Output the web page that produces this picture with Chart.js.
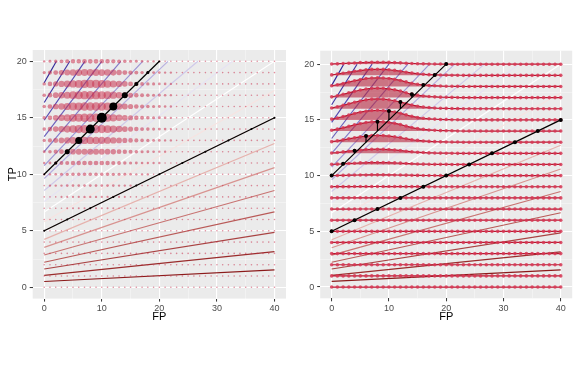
<!DOCTYPE html>
<html>
<head>
<meta charset="utf-8">
<script src="https://cdn.jsdelivr.net/npm/chart.js"></script>
<style>
  html, body { margin: 0; padding: 0; background: #fff; }
  #wrap { position: relative; width: 581px; height: 372px; }
  canvas { position: absolute; top: 0; }
</style>
</head>
<body>
<div id="wrap">
  <canvas id="leftChart" width="290" height="372" style="left:0"></canvas>
  <canvas id="rightChart" width="291" height="372" style="left:290px"></canvas>
</div>
<script>
// ---- data ----
const fpValues = [0,1,2,3,4,5,6,7,8,9,10,11,12,13,14,15,16,17,18,19,20,
                  21,22,23,24,25,26,27,28,29,30,31,32,33,34,35,36,37,38,39,40];
const tpValues = [0,1,2,3,4,5,6,7,8,9,10,11,12,13,14,15,16,17,18,19,20];

const fpGrid = [0,5,10,15,20,25,30,35,40];
const fpLabels = [0,10,20,30,40];
const tpGrid = [0,2.5,5,7.5,10,12.5,15,17.5,20];
const tpLabels = [0,5,10,15,20];

// density per TP row (index = FP), missing entries are 0
const density = [];
density[7]  = [0,0,0,0,0.002,0.003,0.003,0.004,0.004,0.004,0.003,0.003,0.002];
density[8]  = [0,0,0,0.005,0.007,0.008,0.009,0.01,0.01,0.01,0.009,0.008,0.007,0.005,0.004];
density[9]  = [0,0.01,0.01,0.01,0.02,0.02,0.02,0.02,0.025,0.02,0.02,0.02,0.02,0.01,0.01,0.01];
density[10] = [0.01,0.01,0.02,0.04,0.05,0.06,0.06,0.07,0.07,0.07,0.06,0.06,0.05,0.04,0.03,0.02,0.01,0.01,0.01];
density[11] = [0.01,0.03,0.06,0.09,0.11,0.14,0.15,0.17,0.17,0.17,0.16,0.14,0.12,0.09,0.06,0.04,0.03,0.02,0.01,0.01,0.01];
density[12] = [0.03,0.07,0.13,0.19,0.24,0.30,0.34,0.36,0.37,0.36,0.34,0.30,0.26,0.19,0.14,0.10,0.07,0.04,0.03,0.02,0.01,0.01];
density[13] = [0.05,0.12,0.21,0.30,0.40,0.48,0.55,0.59,0.60,0.59,0.55,0.49,0.41,0.31,0.22,0.16,0.11,0.07,0.05,0.03,0.02,0.01,0.01];
density[14] = [0.07,0.17,0.29,0.42,0.55,0.67,0.76,0.82,0.84,0.82,0.77,0.69,0.58,0.44,0.31,0.22,0.15,0.10,0.07,0.04,0.03,0.02,0.01];
density[15] = [0.07,0.17,0.30,0.43,0.57,0.69,0.78,0.84,0.86,0.84,0.79,0.71,0.59,0.45,0.32,0.22,0.15,0.10,0.07,0.04,0.03,0.02,0.01];
density[16] = [0.07,0.18,0.31,0.44,0.58,0.70,0.80,0.86,0.88,0.86,0.81,0.72,0.61,0.46,0.33,0.23,0.16,0.11,0.07,0.04,0.03,0.02,0.01];
density[17] = [0.07,0.17,0.30,0.43,0.56,0.68,0.77,0.83,0.85,0.83,0.78,0.70,0.59,0.44,0.31,0.22,0.15,0.10,0.07,0.04,0.03,0.02,0.01];
density[18] = [0.06,0.16,0.27,0.39,0.51,0.62,0.71,0.76,0.78,0.76,0.72,0.64,0.54,0.41,0.29,0.20,0.14,0.09,0.06,0.04,0.02,0.02,0.01];
density[19] = [0.04,0.11,0.19,0.27,0.36,0.43,0.49,0.53,0.54,0.53,0.50,0.44,0.37,0.28,0.20,0.14,0.10,0.06,0.04,0.03,0.02,0.01,0.01];
density[20] = [0.01,0.03,0.06,0.09,0.11,0.14,0.15,0.17,0.17,0.17,0.16,0.14,0.12,0.09,0.06,0.04,0.03,0.02,0.01,0.01,0.01];

// iso-lines (F = 0.05 ... 0.95)
const isoStartTP = [0.51,1.05,1.62,2.22,2.86,3.53,4.24,5,5.81,6.67,7.59,8.57,9.63,10.77,12,13.33,14.78,16.36,18.1];
const isoEndFP   = [40,40,40,40,40,40,40,40,40,40,32.7,26.7,21.5,17.1,13.3,10,7.06,4.44,2.11];
const isoEndTP   = [1.54,3.16,4.86,6.67,8.57,10.59,12.73,15,17.42,20,20,20,20,20,20,20,20,20,20];
const isoColors  = ['#8b1a1a','#9a2c2c','#a94242','#b95a58','#c87472','#d89390','#e6b2ad','#f0cdc9',
                    '#f7e3e1','#ffffff','#e6e3f3','#cfc9ea','#b6aee0','#9c93d5','#8378c9','#6a5fbd',
                    '#5448b2','#4136a6','#302799'];

// highlighted line through (0,10)-(20,20)
const blackFP = [0,2,4,6,8,10,12,14,16,18,20];
const blackTP = [10,11,12,13,14,15,16,17,18,19,20];
const blackSize = [0.9,1.5,2.5,3.5,4.5,5,4,3,2,1.5,0.9];

// highlighted line through (0,5)-(40,15)
const lowFP = [0,4,8,12,16,20,24,28,32,36,40];
const lowTP = [5,6,7,8,9,10,11,12,13,14,15];

// ---- helpers ----
const FONT = "'Liberation Sans', Arial, sans-serif";

function dens(tp, fp) {
  const row = density[tp];
  return row && row[fp] ? row[fp] : 0;
}

const panelBg = {
  id: 'panelBg',
  beforeDraw(chart) {
    const a = chart.chartArea;
    const c = chart.ctx;
    c.save();
    c.fillStyle = '#EBEBEB';
    c.fillRect(a.left, a.top, a.right - a.left, a.bottom - a.top);
    c.restore();
  }
};

function makeScales(yMin, yMax, yWidth, yTitle) {
  const gridStyle = (labels) => ({
    color: c => labels.includes(c.tick.value) ? '#FFFFFF' : 'rgba(255,255,255,0.65)',
    lineWidth: c => labels.includes(c.tick.value) ? 1.1 : 0.55,
    tickColor: c => labels.includes(c.tick.value) ? '#333333' : 'rgba(0,0,0,0)',
    tickLength: 3,
    tickWidth: 1
  });
  return {
    x: {
      type: 'linear', min: -2, max: 42,
      afterBuildTicks: s => { s.ticks = fpGrid.map(v => ({ value: v })); },
      afterFit: s => { s.height = 25; },
      ticks: {
        autoSkip: false, maxRotation: 0, padding: 1.5, color: '#4D4D4D',
        font: { family: FONT, size: 9 },
        callback: v => fpLabels.includes(v) ? String(v) : ''
      },
      grid: gridStyle(fpLabels),
      border: { display: false },
      title: { display: true, text: 'FP', color: '#000', font: { family: FONT, size: 11 },
               padding: { top: 0, bottom: 0 } }
    },
    y: {
      type: 'linear', min: yMin, max: yMax,
      afterBuildTicks: s => { s.ticks = tpGrid.map(v => ({ value: v })); },
      afterFit: s => { s.width = yWidth; },
      ticks: {
        autoSkip: false, padding: 3, color: '#4D4D4D',
        font: { family: FONT, size: 9 },
        callback: v => tpLabels.includes(v) ? String(v) : ''
      },
      grid: gridStyle(tpLabels),
      border: { display: false },
      title: { display: yTitle, text: 'TP', color: '#000', font: { family: FONT, size: 11 },
               padding: { top: 6.5, bottom: 0 } }
    }
  };
}

function isoDatasets() {
  return isoStartTP.map((a, i) => ({
    type: 'line',
    data: [{ x: 0, y: a }, { x: isoEndFP[i], y: isoEndTP[i] }],
    borderColor: isoColors[i], borderWidth: 1.15, pointRadius: 0, order: 50
  }));
}

function blackLines(pointsLeft) {
  return [
    { type: 'line', data: [{ x: 0, y: 10 }, { x: 20, y: 20 }], borderColor: '#000',
      borderWidth: 1.2, pointRadius: 0, order: 20 },
    { type: 'line', data: [{ x: 0, y: 5 }, { x: 40, y: 15 }], borderColor: '#000',
      borderWidth: 1.2, pointRadius: 0, order: 20 },
    { type: 'line', showLine: false, data: lowFP.map((x, i) => ({ x: x, y: lowTP[i] })),
      pointRadius: pointsLeft ? 1 : 2, pointBackgroundColor: '#000', pointBorderWidth: 0, order: 10 }
  ];
}

function baseOptions(pad, yMin, yMax, yWidth, yTitle) {
  return {
    responsive: false, animation: false, devicePixelRatio: 1, events: [],
    layout: { padding: pad },
    plugins: { legend: { display: false }, tooltip: { enabled: false } },
    scales: makeScales(yMin, yMax, yWidth, yTitle)
  };
}

// ---- left panel: bubble grid ----
const bubblePts = [];
const bubbleR = [];
tpValues.forEach(tp => fpValues.forEach(fp => {
  bubblePts.push({ x: fp, y: tp });
  bubbleR.push(0.8 + 3.7 * Math.sqrt(dens(tp, fp)));
}));

new Chart(document.getElementById('leftChart'), {
  type: 'line',
  data: {
    datasets: [
      ...isoDatasets(),
      { type: 'line', showLine: false, data: bubblePts, pointRadius: bubbleR,
        pointBackgroundColor: 'rgba(200,50,78,0.55)', pointBorderWidth: 0, order: 40 },
      ...blackLines(true),
      { type: 'line', showLine: false, data: blackFP.map((x, i) => ({ x: x, y: blackTP[i] })),
        pointRadius: blackSize, pointBackgroundColor: '#000', pointBorderWidth: 0, order: 5 }
    ]
  },
  options: baseOptions({ left: 0, right: 2.4, top: 50, bottom: 48.4 }, -1, 21, 32.7, true),
  plugins: [panelBg]
});

// ---- right panel: ridges ----
const ridgeSets = tpValues.map(tp => ({
  type: 'line',
  data: fpValues.map(fp => ({ x: fp, y: tp + dens(tp, fp) })),
  fill: { value: tp },
  backgroundColor: 'rgba(180,30,55,0.58)',
  borderColor: '#b8172f', borderWidth: 1.2, tension: 0.3,
  pointRadius: 1.8, pointBackgroundColor: 'rgba(214,55,85,0.85)', pointBorderWidth: 0,
  order: 40
}));

const stemPts = [];
blackFP.forEach((x, i) => {
  const tp = blackTP[i];
  stemPts.push({ x: x, y: tp }, { x: x, y: tp + dens(tp, x) }, { x: x, y: null });
});

new Chart(document.getElementById('rightChart'), {
  type: 'line',
  data: {
    datasets: [
      ...isoDatasets(),
      ...ridgeSets,
      ...blackLines(false),
      { type: 'line', data: stemPts, spanGaps: false, borderColor: '#000', borderWidth: 1.2,
        pointRadius: 0, order: 15 },
      { type: 'line', showLine: false,
        data: blackFP.map((x, i) => ({ x: x, y: blackTP[i] + dens(blackTP[i], x) })),
        pointRadius: 2, pointBackgroundColor: '#000', pointBorderWidth: 0, order: 5 }
    ]
  },
  options: baseOptions({ left: 0, right: 8.8, top: 50.7, bottom: 48.7 }, -1.01, 21.21, 30.2, false),
  plugins: [panelBg]
});
</script>
</body>
</html>
